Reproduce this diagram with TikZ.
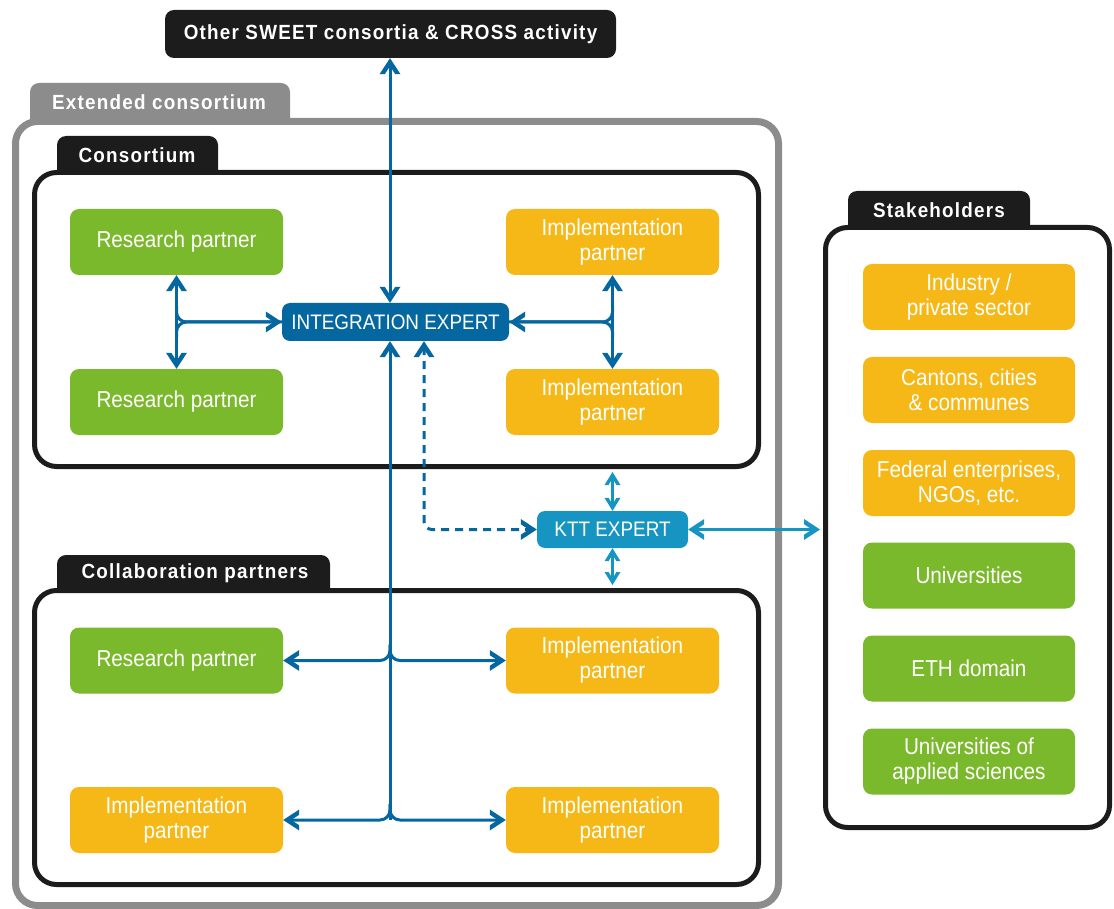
\documentclass[tikz,border=0pt]{standalone}
\usepackage{fontspec}
\setmainfont{Liberation Sans}
\newfontfamily\condfont[FakeStretch=0.9]{Liberation Sans}
\newfontfamily\headfont[FakeStretch=0.92,LetterSpace=6]{Liberation Sans}
\usetikzlibrary{arrows.meta,calc}

% chevron tip with arms of even thickness and square-cut ends
\pgfdeclarearrow{
  name = Chev,
  setup code = {
    \pgfarrowssettipend{0pt}
    \pgfarrowssetlineend{-6pt}
    \pgfarrowssetbackend{-16pt}
    \pgfarrowshullpoint{0pt}{0pt}
    \pgfarrowsupperhullpoint{-16pt}{10.5pt}
  },
  drawing code = {
    \pgfsetfillcolor{pgfstrokecolor}
    \pgfpathmoveto{\pgfpointorigin}
    \pgfpathlineto{\pgfpoint{-16pt}{10.5pt}}
    \pgfpathlineto{\pgfpoint{-16pt}{5.25pt}}
    \pgfpathlineto{\pgfpoint{-8pt}{0pt}}
    \pgfpathlineto{\pgfpoint{-16pt}{-5.25pt}}
    \pgfpathlineto{\pgfpoint{-16pt}{-10.5pt}}
    \pgfpathclose
    \pgfusepathqfill
  }
}
% smaller chevron for the short links
\pgfdeclarearrow{
  name = ChevS,
  setup code = {
    \pgfarrowssettipend{0pt}
    \pgfarrowssetlineend{-5pt}
    \pgfarrowssetbackend{-13pt}
    \pgfarrowshullpoint{0pt}{0pt}
    \pgfarrowsupperhullpoint{-13pt}{8pt}
  },
  drawing code = {
    \pgfsetfillcolor{pgfstrokecolor}
    \pgfpathmoveto{\pgfpointorigin}
    \pgfpathlineto{\pgfpoint{-13pt}{8pt}}
    \pgfpathlineto{\pgfpoint{-13pt}{4pt}}
    \pgfpathlineto{\pgfpoint{-6.5pt}{0pt}}
    \pgfpathlineto{\pgfpoint{-13pt}{-4pt}}
    \pgfpathlineto{\pgfpoint{-13pt}{-8pt}}
    \pgfpathclose
    \pgfusepathqfill
  }
}

\definecolor{rgreen}{HTML}{7AB92C}
\definecolor{iorange}{HTML}{F6B817}
\definecolor{dblue}{HTML}{05679F}
\definecolor{lblue}{HTML}{1795C2}
\definecolor{extgray}{HTML}{8C8C8C}
\definecolor{nearblack}{HTML}{1C1C1C}

\tikzset{
  partner/.style={rounded corners=9pt, minimum width=213pt, minimum height=66pt,
    inner sep=0pt, text=white, align=center,
    font=\condfont\fontsize{23}{25}\selectfont},
  research/.style={partner, fill=rgreen},
  impl/.style={partner, fill=iorange},
  expert/.style={rounded corners=8pt, inner sep=0pt, text=white,
    font=\condfont\fontsize{21}{24}\selectfont},
  frame/.style={draw=nearblack, rounded corners=22pt, inner sep=0pt, line width=5pt},
  tablabel/.style={text=white, inner sep=0pt,
    font=\headfont\bfseries\fontsize{20.5}{22}\selectfont},
  link/.style={>=Chev, draw=dblue, line width=3pt},
  kttlink/.style={>=Chev, draw=lblue, line width=3pt},
  shortlink/.style={>=ChevS, draw=lblue, line width=3pt},
}

\begin{document}
\begin{tikzpicture}[x=1pt,y=-1pt]
\useasboundingbox (0,0) rectangle (1114,909);

% outer frames
\node[frame, draw=extgray, line width=7pt, minimum width=763pt, minimum height=784pt] (ext) at (397,513.5) {};
\node[frame, minimum width=724pt, minimum height=294pt] (cons) at (396.5,319.5) {};
\node[frame, minimum width=724pt, minimum height=294pt] (collab) at (396.5,737.5) {};
\node[frame, minimum width=284pt, minimum height=600pt] (stake) at (967.5,527.5) {};

% title tabs
\fill[extgray] (30,121.5) [rounded corners=9pt] -- (30,83) -- (290,83) [sharp corners] -- (290,121.5) -- cycle;
\fill[nearblack] (57,172) [rounded corners=9pt] -- (57,136) -- (218,136) [sharp corners] -- (218,172) -- cycle;
\fill[nearblack] (57,590) [rounded corners=9pt] -- (57,555) -- (330,555) [sharp corners] -- (330,590) -- cycle;
\fill[nearblack] (848,227) [rounded corners=9pt] -- (848,191) -- (1030,191) [sharp corners] -- (1030,227) -- cycle;
\node[tablabel] (extlabel) at (159,102) {Extended consortium};
\node[tablabel] (conslabel) at (137,155) {Consortium};
\node[tablabel] (collablabel) at (195,573) {Collaboration partners};
\node[tablabel] (stakelabel) at (939,210) {Stakeholders};

% top box
\node[fill=nearblack, rounded corners=9pt, minimum width=451pt, minimum height=48pt, inner sep=0pt,
  text=white, font=\headfont\bfseries\fontsize{20.5}{22}\selectfont] (top) at (390.5,34) {Other SWEET consortia \& CROSS activity};

% consortium
\node[research] (rp1) at (176.5,242) {Research partner};
\node[research] (rp2) at (176.5,402) {Research partner};
\node[impl] (ip1) at (612.5,242) {Implementation\\partner};
\node[impl] (ip2) at (612.5,402) {Implementation\\partner};
\node[expert, fill=dblue, minimum width=227pt, minimum height=38pt] (integ) at (395.5,322) {INTEGRATION EXPERT};

% collaboration partners
\node[research] (rp3) at (176.5,660.5) {Research partner};
\node[impl] (ip3) at (612.5,660.5) {Implementation\\partner};
\node[impl] (ip4) at (176.5,820) {Implementation\\partner};
\node[impl] (ip5) at (612.5,820) {Implementation\\partner};

% KTT
\node[expert, fill=lblue, minimum width=151pt, minimum height=37pt] (ktt) at (612.5,529.5) {KTT EXPERT};

% stakeholders
\node[impl, minimum width=212pt] (s1) at (969,297) {Industry /\\private sector};
\node[impl, minimum width=212pt] (s2) at (969,390) {Cantons, cities\\\& communes};
\node[impl, minimum width=212pt] (s3) at (969,483) {Federal enterprises,\\NGOs, etc.};
\node[research, minimum width=212pt] (s4) at (969,575.5) {Universities};
\node[research, minimum width=212pt] (s5) at (969,668.5) {ETH domain};
\node[research, minimum width=212pt] (s6) at (969,761.5) {Universities of\\applied sciences};

% connectors
\coordinate (bus) at ($(integ.south)+(-5.5,0)$);
\coordinate (busn) at ($(integ.north)+(-5.5,0)$);
\draw[link,<->] (bus |- top.south) -- (busn);

% left and right consortium forks
\draw[link,<->] (rp1.south) -- (rp2.north);
\draw[link,->,rounded corners=10pt] ($(rp1.south |- integ.west)+(0,-16)$) -- (rp1.south |- integ.west) -- (integ.west);
\draw[link,rounded corners=10pt] ($(rp1.south |- integ.west)+(0,16)$) -- (rp1.south |- integ.west) -- (integ.west);
\draw[link,<->] (ip1.south) -- (ip2.north);
\draw[link,->,rounded corners=10pt] ($(ip1.south |- integ.east)+(0,-16)$) -- (ip1.south |- integ.east) -- (integ.east);
\draw[link,rounded corners=10pt] ($(ip1.south |- integ.east)+(0,16)$) -- (ip1.south |- integ.east) -- (integ.east);

% collaboration bus
\draw[link,->] (bus |- ip5.west) -- (bus);
\draw[link,->,rounded corners=10pt] ($(bus |- rp3.east)+(0,-16)$) -- (bus |- rp3.east) -- (rp3.east);
\draw[link,->,rounded corners=10pt] ($(bus |- ip3.west)+(0,-16)$) -- (bus |- ip3.west) -- (ip3.west);
\draw[link,->,rounded corners=10pt] ($(bus |- ip4.east)+(0,-16)$) -- (bus |- ip4.east) -- (ip4.east);
\draw[link,->,rounded corners=10pt] ($(bus |- ip5.west)+(0,-16)$) -- (bus |- ip5.west) -- (ip5.west);

% dashed link to KTT
\coordinate (dash) at ($(integ.south)+(28.5,0)$);
\draw[link,<->,dash pattern=on 8pt off 6pt,rounded corners=8pt] (dash) -- (dash |- ktt.west) -- (ktt.west);

% KTT links
\draw[shortlink,<->,shorten >=3pt] (ktt.north) -- (ktt.north |- cons.south);
\draw[shortlink,<->,shorten >=3pt] (ktt.south) -- (ktt.south |- collab.north);
\draw[kttlink,line width=2.2pt,<->,shorten >=3pt] (ktt.east) -- (ktt.east -| stake.west);
\end{tikzpicture}
\end{document}
